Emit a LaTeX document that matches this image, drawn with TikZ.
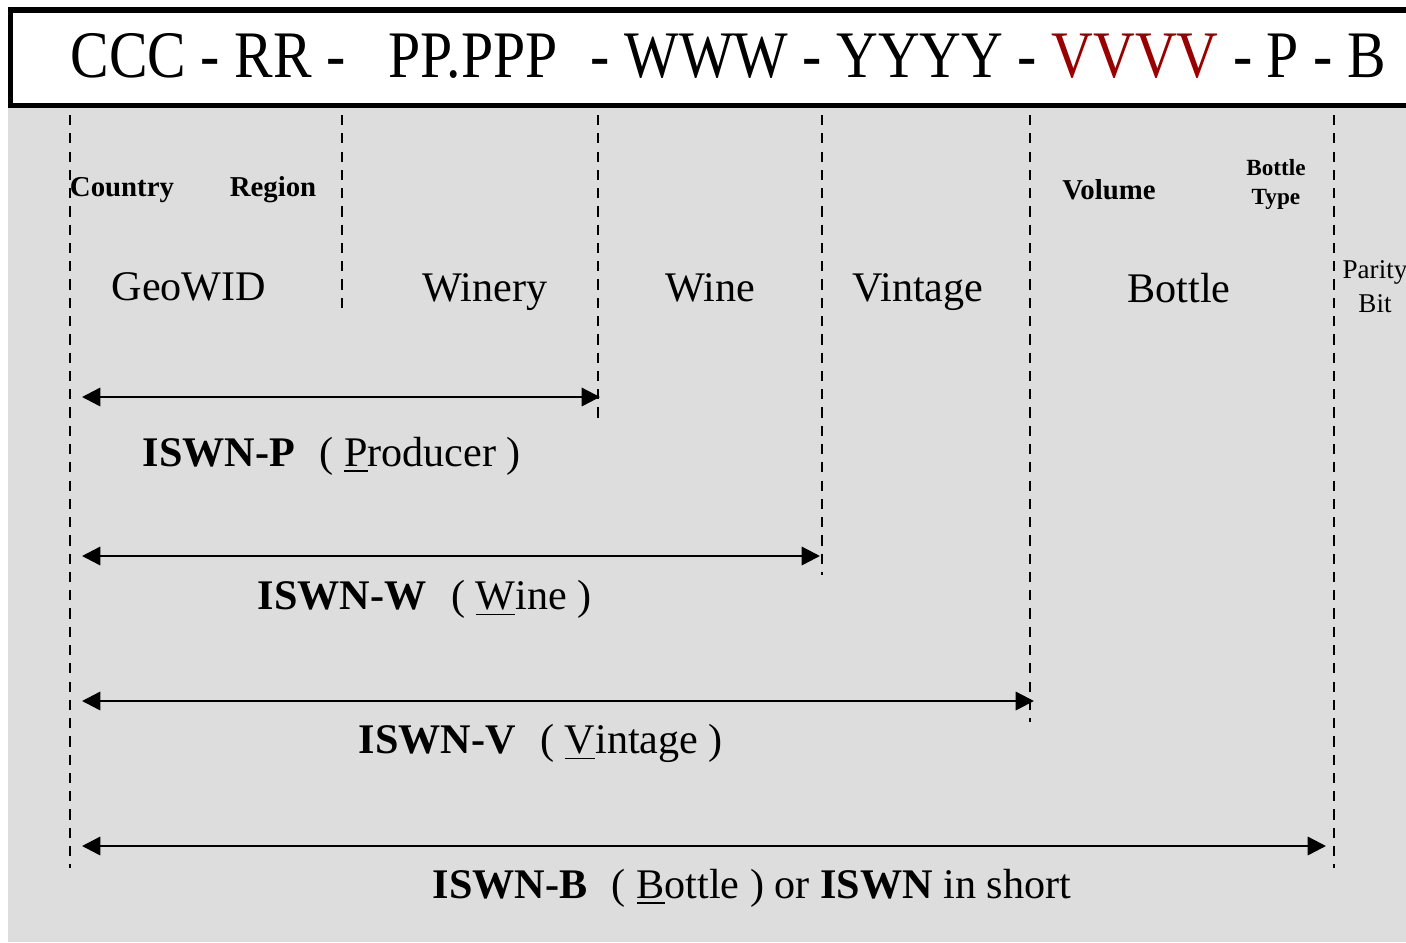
\documentclass[tikz,border=0pt]{standalone}
\usepackage{fontspec}
\setmainfont{Liberation Serif}
\usetikzlibrary{arrows.meta,positioning,calc}
\definecolor{panelgray}{HTML}{DDDDDD}
\definecolor{vred}{HTML}{990000}
\newcommand{\sz}[2]{\fontsize{#1}{#2}\selectfont}
\newcommand{\gap}{\hspace{7pt}}
\newcommand{\vred}[1]{{\color{vred}#1}}
\tikzset{
  codebar/.style={draw=black, line width=1.5pt, fill=white},
  panel/.style={fill=panelgray, draw=none},
  divline/.style={line width=0.85pt, dash pattern=on 2.9pt off 2.3pt},
  spanarr/.style={{Triangle[length=5.2pt,width=5.2pt]}-{Triangle[length=5.2pt,width=5.2pt]},
                  line width=0.7pt},
  fieldbig/.style={inner sep=0pt, font=\sz{12}{14}, anchor=base},
  fieldsub/.style={inner sep=0pt, font=\bfseries\sz{8.2}{10}, anchor=base},
  spanlbl/.style={inner sep=0pt, font=\sz{12}{14}, anchor=base west}}

\begin{document}
\begin{tikzpicture}[x=0.1mm, y=-0.1mm]
    \useasboundingbox (0,0) rectangle (1406,942);
    \clip (0,0) rectangle (1406,942);
    \fill[panel] (8,106) rectangle (1406,942);
    \draw[codebar] (10.5,10) rectangle (1420,105.5);
    \node[inner sep=0pt, anchor=base west] (code) at (70,77)
      {\scalebox{1}[1.15]{\sz{16.45}{18}CCC - RR -\ \ \ PP.PPP\hspace{9.5pt}- WWW - YYYY - \vred{VVVV} - P - B}};

    \coordinate (d0t) at (70,115);   \coordinate (d0b) at (70,868);
    \coordinate (d1t) at (342,115);  \coordinate (d1b) at (342,308);
    \coordinate (d2t) at (598,115);  \coordinate (d2b) at (598,420);
    \coordinate (d3t) at (822,115);  \coordinate (d3b) at (822,575);
    \coordinate (d4t) at (1030,115); \coordinate (d4b) at (1030,722);
    \coordinate (d5t) at (1334,115); \coordinate (d5b) at (1334,868);
    \draw[divline] (d0t) -- (d0b);
    \draw[divline] (d1t) -- (d1b);
    \draw[divline] (d2t) -- (d2b);
    \draw[divline] (d3t) -- (d3b);
    \draw[divline] (d4t) -- (d4b);
    \draw[divline] (d5t) -- (d5b);

    \node[fieldsub] (country) at (122,196) {Country};
    \node[fieldsub] (region) at (273,196) {Region};
    \node[fieldsub] (volume) at (1109,199) {Volume};
    \node[inner sep=0pt, font=\bfseries\sz{6.6}{8.25}, align=center] (btype) at (1276,184.5) {Bottle\\Type};
    \node[fieldbig] (geowid) at (189,300) {GeoWID};
    \node[fieldbig] (winery) at (485,301) {Winery};
    \node[fieldbig] (wine) at (710,301) {Wine};
    \node[fieldbig] (vintage) at (918,301) {Vintage};
    \node[fieldbig] (bottle) at (1179,302) {Bottle};
    \node[inner sep=0pt, font=\sz{7.7}{9.7}, align=center] (parity) at (1375,287) {Parity\\Bit};

    \coordinate (pL) at (82,397);  \coordinate (pR) at (600,397);
    \coordinate (wL) at (82,556);  \coordinate (wR) at (820,556);
    \coordinate (vL) at (82,701);  \coordinate (vR) at (1034,701);
    \coordinate (bL) at (82,846);  \coordinate (bR) at (1326,846);
    \draw[spanarr] (pL) -- (pR);
    \draw[spanarr] (wL) -- (wR);
    \draw[spanarr] (vL) -- (vR);
    \draw[spanarr] (bL) -- (bR);

    \node[spanlbl] (isp) at (142,466) {\textbf{ISWN-P}\gap( \underline{P}roducer )};
    \node[spanlbl] (isw) at (257,609) {\textbf{ISWN-W}\gap( \underline{W}ine )};
    \node[spanlbl] (isv) at (358,753) {\textbf{ISWN-V}\gap( \underline{V}intage )};
    \node[spanlbl] (isb) at (432,898) {\textbf{ISWN-B}\gap( \underline{B}ottle ) or \textbf{ISWN} in short};
  \end{tikzpicture}
\end{document}
